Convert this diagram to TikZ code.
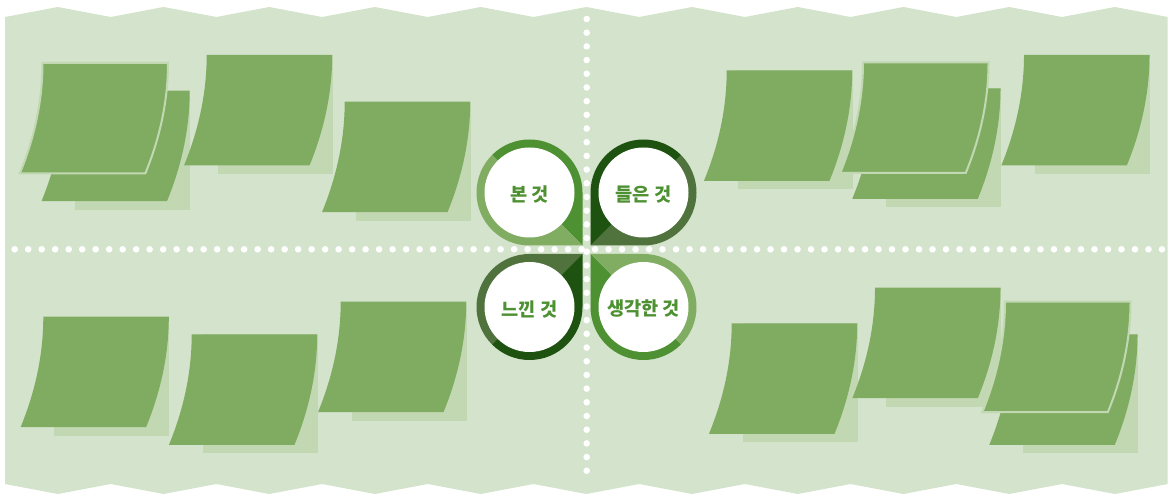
\documentclass[tikz,border=0pt]{standalone}
\usepackage{fontspec}
\newfontfamily\krfont{Noto Sans CJK KR}
\definecolor{bgpale}{HTML}{D4E3CB}
\definecolor{notegreen}{HTML}{80AC62}
\definecolor{shadegreen}{HTML}{C2D8B3}
\definecolor{bmid}{HTML}{4E9132}
\definecolor{blight}{HTML}{80AD62}
\definecolor{bdark}{HTML}{1E5210}
\definecolor{bgray}{HTML}{50733E}
% 메모지 윤곽 (왼쪽 위 꼭짓점 기준)
\newcommand{\notepath}{(0,0) -- (125.5,0) .. controls (125.5,36.8) and (117.9,73.7) .. (102.8,110.5) -- (-22.7,110.5) .. controls (-7.6,73.7) and (0,36.8) .. cycle}

\begin{document}
\begin{tikzpicture}[x=0.75pt,y=-0.75pt,
  solo shadow/.style={fill=shadegreen},
  solo note/.style={fill=notegreen},
  top shadow/.style={},
  top note/.style={fill=notegreen,draw=shadegreen,line width=1.5pt},
  whitedot/.style={fill=white},
  badgetext/.style={font=\krfont\bfseries\fontsize{14}{16}\selectfont,text=bmid,inner sep=0pt}]
\useasboundingbox (0,0) rectangle (1173,498);
% ---------- 배경 (톱니 가장자리) ----------
\fill[bgpale] (5,17) \foreach \i in {0,...,10}{ -- ({5+105.7*\i+52.85},7) -- ({5+105.7*(\i+1)},17) }
  -- (1167.7,484) \foreach \i in {10,...,0}{ -- ({5+105.7*\i+52.85},494) -- ({5+105.7*\i},484) } -- cycle;
% ---------- 메모지 ----------
\foreach \x/\y/\k in {64.2/90.7/solo, 42.5/63/top, 206.7/55/solo, 344.7/101.7/solo,
    726.7/70.3/solo, 875/88.3/solo, 863/62.3/top, 1024/55/solo,
    43.3/316.7/solo, 191.7/334.3/solo, 340.7/301.7/solo,
    731.7/323.3/solo, 875/287.7/solo, 1012/334.3/solo, 1005/301.7/top}{
  \begin{scope}[shift={(\x,\y)}]
    \path[\k\space shadow] (11,0) rectangle (125.8,119);
    \path[\k\space note] \notepath;
  \end{scope}
}
% ---------- 점선 ----------
\foreach \k in {0,...,85} \fill[whitedot] ({14.7+13.497*\k},249.3) circle[radius=3.3];
\foreach \k in {0,...,33} \fill[whitedot] (586.7,{19+13.69*\k}) circle[radius=3.3];
% ---------- 가운데 표지 네 개 ----------
\foreach \cx/\cy/\ang/\ca/\cb/\nm/\txt in {529.5/192.5/45/bmid/blight/seen/본 것,
    643.5/192.5/135/bgray/bdark/heard/들은 것,
    529.5/307/315/bgray/bdark/felt/느낀 것,
    643.5/307/225/bmid/blight/thought/생각한 것}{
  \fill[\ca] (\cx,\cy) -- ([shift={({\ang+180}:53)}]\cx,\cy)
    arc[start angle={\ang+180},end angle={\ang+315},radius=53]
    -- ([shift={(\ang:74.95)}]\cx,\cy) -- cycle;
  \fill[\cb] (\cx,\cy) -- ([shift={(\ang:74.95)}]\cx,\cy)
    -- ([shift={({\ang+45}:53)}]\cx,\cy)
    arc[start angle={\ang+45},end angle={\ang+180},radius=53] -- cycle;
  \fill[white] (\cx,\cy) circle[radius=45];
  \node[badgetext] (\nm) at (\cx,{\cy+2}) {\txt};
}
\end{tikzpicture}
\end{document}
